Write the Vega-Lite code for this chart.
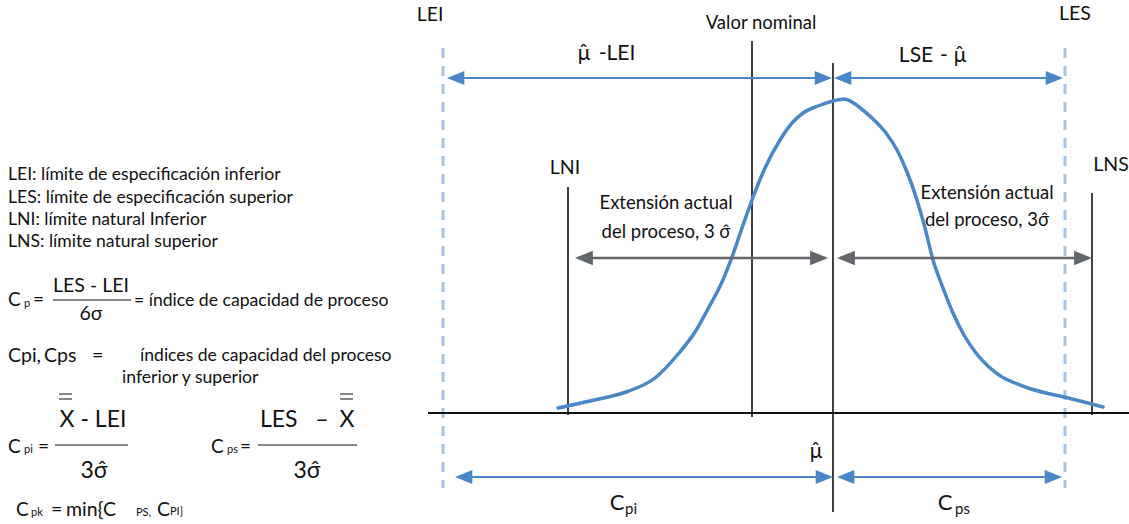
{
  "$schema": "https://vega.github.io/schema/vega-lite/v6.json",
  "width": 1129,
  "height": 524,
  "padding": 0,
  "autosize": {"type": "none"},
  "background": "white",
  "config": {"view": {"stroke": null}, "text": {"font": "Lato", "color": "#111111"}},
  "datasets": {
    "curve": [
      {"x": 558, "y": 408}, {"x": 590, "y": 401}, {"x": 626, "y": 392}, {"x": 655, "y": 378},
      {"x": 679, "y": 353}, {"x": 695, "y": 332}, {"x": 709, "y": 307}, {"x": 722, "y": 282},
      {"x": 732, "y": 257}, {"x": 742, "y": 228}, {"x": 752, "y": 200}, {"x": 765, "y": 168},
      {"x": 780, "y": 140}, {"x": 792, "y": 123}, {"x": 803, "y": 113}, {"x": 818, "y": 106},
      {"x": 833, "y": 101}, {"x": 844, "y": 99}, {"x": 852, "y": 102}, {"x": 859, "y": 107},
      {"x": 872, "y": 118}, {"x": 886, "y": 133}, {"x": 897, "y": 150}, {"x": 907, "y": 172},
      {"x": 916, "y": 197}, {"x": 925, "y": 228}, {"x": 933, "y": 260}, {"x": 943, "y": 288},
      {"x": 953, "y": 313}, {"x": 964, "y": 335}, {"x": 976, "y": 353}, {"x": 989, "y": 367},
      {"x": 1002, "y": 377}, {"x": 1015, "y": 383}, {"x": 1028, "y": 388}, {"x": 1046, "y": 393},
      {"x": 1064, "y": 397}, {"x": 1084, "y": 402}, {"x": 1103, "y": 407}
    ],
    "speclimits": [
      {"name": "LEI", "x": 443, "y": 48, "y2": 488},
      {"name": "LES", "x": 1065, "y": 48, "y2": 488}
    ],
    "vlines": [
      {"name": "Valor nominal", "x": 752, "y": 41, "y2": 417},
      {"name": "media", "x": 833, "y": 63, "y2": 512},
      {"name": "LNI", "x": 568, "y": 187, "y2": 415},
      {"name": "LNS", "x": 1092, "y": 193, "y2": 415}
    ],
    "baseline": [{"x": 428, "x2": 1129, "y": 413}],
    "fraclines": [
      {"x": 53, "x2": 131, "y": 300},
      {"x": 55, "x2": 128, "y": 445},
      {"x": 258, "x2": 357, "y": 445},
      {"x": 59, "x2": 72, "y": 394},
      {"x": 59, "x2": 72, "y": 399},
      {"x": 340, "x2": 353, "y": 394},
      {"x": 340, "x2": 353, "y": 399}
    ],
    "blueArrows": [
      {"x": 450, "x2": 830, "y": 78},
      {"x": 836, "x2": 1060, "y": 78},
      {"x": 458, "x2": 830, "y": 477},
      {"x": 840, "x2": 1059, "y": 477}
    ],
    "grayArrows": [
      {"x": 578, "x2": 825, "y": 258},
      {"x": 840, "x2": 1089, "y": 258}
    ],
    "blueHeads": [
      {"x": 447, "y": 78, "dir": "L"}, {"x": 832, "y": 78, "dir": "R"},
      {"x": 834, "y": 78, "dir": "L"}, {"x": 1063, "y": 78, "dir": "R"},
      {"x": 455, "y": 477, "dir": "L"}, {"x": 833, "y": 477, "dir": "R"},
      {"x": 837, "y": 477, "dir": "L"}, {"x": 1062, "y": 477, "dir": "R"}
    ],
    "grayHeads": [
      {"x": 575, "y": 258, "dir": "L"}, {"x": 828, "y": 258, "dir": "R"},
      {"x": 837, "y": 258, "dir": "L"}, {"x": 1092, "y": 258, "dir": "R"}
    ],
    "texts": [
      {"g": "desc", "x": 8, "y": 175, "t": "LEI: límite de especificación inferior"},
      {"g": "desc", "x": 8, "y": 198, "t": "LES: límite de especificación superior"},
      {"g": "desc", "x": 8, "y": 220, "t": "LNI: límite natural Inferior"},
      {"g": "desc", "x": 8, "y": 242, "t": "LNS: límite natural superior"},
      {"g": "desc", "x": 134, "y": 301, "t": "= índice de capacidad de proceso"},
      {"g": "pk", "x": 8, "y": 356, "t": "Cpi,"},
      {"g": "pk", "x": 44, "y": 356, "t": "Cps"},
      {"g": "pk", "x": 92, "y": 356, "t": "="},
      {"g": "desc", "x": 140, "y": 356, "t": "índices de capacidad del proceso"},
      {"g": "desc", "x": 122, "y": 378, "t": "inferior y superior"},
      {"g": "pk", "x": 51, "y": 510, "t": "="},
      {"g": "pk", "x": 66, "y": 510, "t": "min{C"},
      {"g": "pk", "x": 157, "y": 510, "t": "C"},
      {"g": "sym", "x": 8, "y": 300, "t": "C"},
      {"g": "sym", "x": 8, "y": 447, "t": "C"},
      {"g": "sym", "x": 211, "y": 447, "t": "C"},
      {"g": "sym", "x": 16, "y": 510, "t": "C"},
      {"g": "eq", "x": 33, "y": 300, "t": "="},
      {"g": "eq", "x": 38, "y": 447, "t": "="},
      {"g": "eq", "x": 240, "y": 447, "t": "="},
      {"g": "sub", "x": 24, "y": 304, "t": "p"},
      {"g": "sub", "x": 24, "y": 450, "t": "pi"},
      {"g": "sub", "x": 227, "y": 450, "t": "ps"},
      {"g": "sub", "x": 31, "y": 513, "t": "pk"},
      {"g": "sub", "x": 136, "y": 513, "t": "PS,"},
      {"g": "sub", "x": 170, "y": 512, "t": "PI}"},
      {"g": "frac", "x": 91, "y": 286, "t": "LES - LEI"},
      {"g": "frac", "x": 91, "y": 314, "t": "6σ"},
      {"g": "big", "x": 93, "y": 420, "t": "X - LEI"},
      {"g": "big", "x": 94, "y": 471, "t": "3σ̂"},
      {"g": "big", "x": 307, "y": 471, "t": "3σ̂"},
      {"g": "big", "x": 322, "y": 420, "t": "–"},
      {"g": "big", "x": 347, "y": 420, "t": "X"},
      {"g": "bigL", "x": 260, "y": 420, "t": "LES"},
      {"g": "lbl", "x": 430, "y": 15, "t": "LEI"},
      {"g": "lbl", "x": 1075, "y": 14, "t": "LES"},
      {"g": "lbl", "x": 565, "y": 168, "t": "LNI"},
      {"g": "lbl", "x": 1111, "y": 165, "t": "LNS"},
      {"g": "lbl2", "x": 761, "y": 23, "t": "Valor nominal"},
      {"g": "lbl2", "x": 666, "y": 203, "t": "Extensión actual"},
      {"g": "lbl2", "x": 666, "y": 232, "t": "del proceso, 3 σ̂"},
      {"g": "lbl2", "x": 987, "y": 193, "t": "Extensión actual"},
      {"g": "lbl2", "x": 987, "y": 220, "t": "del proceso, 3σ̂"},
      {"g": "mu", "x": 584, "y": 54, "t": "μ̂"},
      {"g": "mu", "x": 617, "y": 54, "t": "-LEI"},
      {"g": "mu", "x": 916, "y": 56, "t": "LSE"},
      {"g": "mu", "x": 944, "y": 56, "t": "-"},
      {"g": "mu", "x": 960, "y": 56, "t": "μ̂"},
      {"g": "mu", "x": 816, "y": 452, "t": "μ̂"},
      {"g": "cbig", "x": 617, "y": 503, "t": "C"},
      {"g": "cbig", "x": 945, "y": 503, "t": "C"},
      {"g": "csub", "x": 625, "y": 509, "t": "pi"},
      {"g": "csub", "x": 955, "y": 509, "t": "ps"}
    ]
  },
  "encoding": {
    "x": {"field": "x", "type": "quantitative", "scale": {"domain": [0, 1129], "nice": false, "zero": false}, "axis": null},
    "y": {"field": "y", "type": "quantitative", "scale": {"domain": [0, 524], "nice": false, "zero": false, "reverse": true}, "axis": null}
  },
  "layer": [
    {
      "data": {"name": "speclimits"},
      "mark": {"type": "rule", "stroke": "#a7c3e3", "strokeWidth": 3, "strokeDash": [10, 8]},
      "encoding": {"y2": {"field": "y2"}}
    },
    {
      "data": {"name": "baseline"},
      "mark": {"type": "rule", "stroke": "#111111", "strokeWidth": 2},
      "encoding": {"x2": {"field": "x2"}}
    },
    {
      "data": {"name": "fraclines"},
      "mark": {"type": "rule", "stroke": "#111111", "strokeWidth": 1},
      "encoding": {"x2": {"field": "x2"}}
    },
    {
      "data": {"name": "vlines"},
      "mark": {"type": "rule", "stroke": "#111111", "strokeWidth": 1.6},
      "encoding": {"y2": {"field": "y2"}}
    },
    {
      "data": {"name": "curve"},
      "mark": {"type": "line", "interpolate": "monotone", "stroke": "#4a87c6", "strokeWidth": 3.5, "strokeCap": "round"},
      "encoding": {}
    },
    {
      "data": {"name": "blueArrows"},
      "mark": {"type": "rule", "stroke": "#4a87c6", "strokeWidth": 2},
      "encoding": {"x2": {"field": "x2"}}
    },
    {
      "data": {"name": "grayArrows"},
      "mark": {"type": "rule", "stroke": "#63666a", "strokeWidth": 2.5},
      "encoding": {"x2": {"field": "x2"}}
    },
    {
      "data": {"name": "blueHeads"},
      "mark": {"type": "point", "filled": true, "color": "#4a87c6", "opacity": 1, "size": 300, "strokeWidth": 0},
      "encoding": {
        "shape": {"field": "dir", "type": "nominal", "scale": {"domain": ["L", "R"], "range": ["M0,0L2,-0.82L2,0.82Z", "M0,0L-2,-0.82L-2,0.82Z"]}, "legend": null}
      }
    },
    {
      "data": {"name": "grayHeads"},
      "mark": {"type": "point", "filled": true, "color": "#63666a", "opacity": 1, "size": 320, "strokeWidth": 0},
      "encoding": {
        "shape": {"field": "dir", "type": "nominal", "scale": {"domain": ["L", "R"], "range": ["M0,0L2,-0.9L2,0.9Z", "M0,0L-2,-0.9L-2,0.9Z"]}, "legend": null}
      }
    },
    {
      "data": {"name": "texts"},
      "transform": [{"filter": "datum.g === 'desc'"}],
      "mark": {"type": "text", "align": "left", "fontSize": 17.6},
      "encoding": {"text": {"field": "t"}}
    },
    {
      "data": {"name": "texts"},
      "transform": [{"filter": "datum.g === 'pk'"}],
      "mark": {"type": "text", "align": "left", "fontSize": 19.5},
      "encoding": {"text": {"field": "t"}}
    },
    {
      "data": {"name": "texts"},
      "transform": [{"filter": "datum.g === 'sym'"}],
      "mark": {"type": "text", "align": "left", "fontSize": 19},
      "encoding": {"text": {"field": "t"}}
    },
    {
      "data": {"name": "texts"},
      "transform": [{"filter": "datum.g === 'eq'"}],
      "mark": {"type": "text", "align": "left", "fontSize": 19},
      "encoding": {"text": {"field": "t"}}
    },
    {
      "data": {"name": "texts"},
      "transform": [{"filter": "datum.g === 'sub'"}],
      "mark": {"type": "text", "align": "left", "fontSize": 11},
      "encoding": {"text": {"field": "t"}}
    },
    {
      "data": {"name": "texts"},
      "transform": [{"filter": "datum.g === 'frac'"}],
      "mark": {"type": "text", "align": "center", "fontSize": 19.5},
      "encoding": {"text": {"field": "t"}}
    },
    {
      "data": {"name": "texts"},
      "transform": [{"filter": "datum.g === 'big'"}],
      "mark": {"type": "text", "align": "center", "fontSize": 23},
      "encoding": {"text": {"field": "t"}}
    },
    {
      "data": {"name": "texts"},
      "transform": [{"filter": "datum.g === 'bigL'"}],
      "mark": {"type": "text", "align": "left", "fontSize": 23},
      "encoding": {"text": {"field": "t"}}
    },
    {
      "data": {"name": "texts"},
      "transform": [{"filter": "datum.g === 'lbl'"}],
      "mark": {"type": "text", "align": "center", "fontSize": 19.5},
      "encoding": {"text": {"field": "t"}}
    },
    {
      "data": {"name": "texts"},
      "transform": [{"filter": "datum.g === 'lbl2'"}],
      "mark": {"type": "text", "align": "center", "fontSize": 18.5},
      "encoding": {"text": {"field": "t"}}
    },
    {
      "data": {"name": "texts"},
      "transform": [{"filter": "datum.g === 'mu'"}],
      "mark": {"type": "text", "align": "center", "fontSize": 21},
      "encoding": {"text": {"field": "t"}}
    },
    {
      "data": {"name": "texts"},
      "transform": [{"filter": "datum.g === 'cbig'"}],
      "mark": {"type": "text", "align": "center", "fontSize": 22},
      "encoding": {"text": {"field": "t"}}
    },
    {
      "data": {"name": "texts"},
      "transform": [{"filter": "datum.g === 'csub'"}],
      "mark": {"type": "text", "align": "left", "fontSize": 15},
      "encoding": {"text": {"field": "t"}}
    }
  ]
}
